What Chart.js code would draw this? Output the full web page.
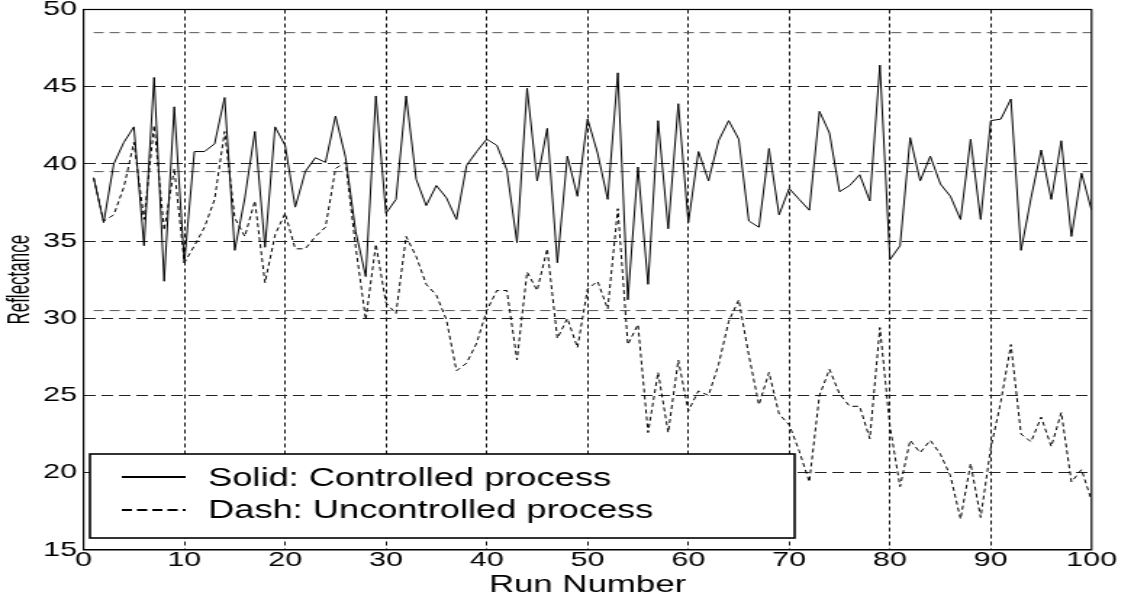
<!DOCTYPE html>
<html>
<head>
<meta charset="utf-8">
<script src="https://cdn.jsdelivr.net/npm/chart.js@4.4.1/dist/chart.umd.min.js"></script>
<style>
  html, body { margin: 0; padding: 0; background: #fff; overflow: hidden; }
  /* the original figure is stretched sideways, so draw narrow and stretch */
  #wrap { width: 782px; height: 605px; transform: scaleX(1.45); transform-origin: 0 0; }
</style>
</head>
<body>
<div id="wrap"><canvas id="chart1" width="782" height="605"></canvas></div>
<script>
var runs = Array.from({length: 100}, function (_, i) { return i + 1; });

var controlled = [
  39.1, 36.2, 40.0, 41.4, 42.4, 34.7, 45.6, 32.4, 43.7, 33.6,
  40.8, 40.8, 41.3, 44.3, 34.4, 37.8, 42.1, 34.6, 42.4, 41.2,
  37.2, 39.5, 40.4, 40.1, 43.1, 40.4, 35.6, 32.7, 44.4, 36.8,
  37.7, 44.4, 39.0, 37.3, 38.6, 37.8, 36.4, 39.9, 40.8, 41.6,
  41.2, 39.6, 34.9, 44.9, 38.9, 42.3, 33.6, 40.5, 37.9, 42.9,
  40.7, 37.7, 45.9, 31.2, 39.8, 32.2, 42.8, 35.8, 43.9, 36.2,
  40.8, 38.9, 41.5, 42.8, 41.6, 36.3, 35.9, 41.0, 36.7, 38.4,
  37.7, 37.0, 43.4, 42.0, 38.2, 38.6, 39.3, 37.6, 46.4, 33.8,
  34.7, 41.7, 38.9, 40.5, 38.7, 37.9, 36.4, 41.6, 36.4, 42.8,
  42.9, 44.2, 34.4, 37.8, 40.9, 37.7, 41.5, 35.3, 39.4, 37.0
];

var uncontrolled = [
  39.1, 36.3, 36.7, 38.5, 41.4, 36.4, 42.5, 35.7, 39.7, 33.6,
  34.7, 35.9, 37.7, 42.1, 36.5, 35.3, 37.6, 32.3, 35.4, 36.8,
  34.5, 34.5, 35.3, 35.9, 39.7, 40.1, 34.6, 29.9, 34.8, 31.0,
  30.3, 35.3, 34.0, 32.2, 31.5, 29.9, 26.6, 27.1, 28.4, 30.5,
  31.8, 31.8, 27.3, 33.0, 31.8, 34.5, 28.7, 30.0, 28.1, 31.9,
  32.4, 30.6, 37.1, 28.3, 29.6, 22.6, 26.5, 22.6, 27.3, 24.0,
  25.3, 25.0, 27.0, 29.8, 31.2, 27.6, 24.4, 26.5, 23.8, 23.1,
  21.4, 19.4, 25.0, 26.7, 25.1, 24.3, 24.3, 22.2, 29.4, 23.0,
  19.1, 22.1, 21.3, 22.1, 21.2, 19.8, 17.0, 20.6, 17.1, 21.6,
  24.6, 28.3, 22.5, 22.0, 23.6, 21.7, 23.9, 19.4, 20.2, 18.2
];

// upper limit, centre line, lower limit
var limits = [48.5, 39.5, 30.5];

var xTicks = [0, 10, 20, 30, 40, 50, 60, 70, 80, 90, 100];
var yTicks = [15, 20, 25, 30, 35, 40, 45, 50];

var seriesLabels = ['Solid: Controlled process', 'Dash: Uncontrolled process'];
var yTitle = 'Reflectance';

function points(ys) {
  return runs.map(function (r, i) { return {x: r, y: ys[i]}; });
}

var datasets = [{
  label: seriesLabels[0],
  data: points(controlled),
  borderColor: '#000',
  borderWidth: 1,
  pointRadius: 0,
  fill: false
}, {
  label: seriesLabels[1],
  data: points(uncontrolled),
  borderColor: '#000',
  borderWidth: 1,
  borderDash: [4, 3],
  pointRadius: 0,
  fill: false
}];

limits.forEach(function (v) {
  datasets.push({
    label: 'limit',
    data: [{x: runs[0], y: v}, {x: runs[runs.length - 1], y: v}],
    borderColor: '#555',
    borderWidth: 1,
    borderDash: [7, 4],
    pointRadius: 0,
    fill: false
  });
});

// box round the plot, the key in the lower left corner, and the y title
var frameAndKey = {
  id: 'frameAndKey',
  afterDatasetsDraw: function (chart) {
    var ctx = chart.ctx, a = chart.chartArea;
    ctx.save();
    ctx.strokeStyle = '#000';
    ctx.lineWidth = 1.2;
    ctx.strokeRect(a.left, a.top, a.right - a.left, a.bottom - a.top);

    ctx.fillStyle = '#fff';
    ctx.fillRect(62, 454, 486, 84);
    ctx.lineWidth = 1.6;
    ctx.strokeRect(62, 454, 486, 84);

    ctx.lineWidth = 2;
    ctx.beginPath();
    ctx.moveTo(84, 477); ctx.lineTo(128, 477);
    ctx.stroke();
    ctx.setLineDash([7, 3.5]);
    ctx.beginPath();
    ctx.moveTo(84, 510); ctx.lineTo(128, 510);
    ctx.stroke();
    ctx.setLineDash([]);

    ctx.fillStyle = '#000';
    ctx.font = "25px 'Liberation Sans', Arial, sans-serif";
    ctx.textBaseline = 'alphabetic';
    ctx.textAlign = 'left';
    ctx.fillText(seriesLabels[0], 143.5, 486);
    ctx.fillText(seriesLabels[1], 143.5, 518);

    // y title: rotated, a bit taller across than the plain font
    ctx.translate(14.5, (a.top + a.bottom) / 2);
    ctx.rotate(-Math.PI / 2);
    ctx.scale(1, 1.25);
    ctx.font = "17px 'Liberation Sans', Arial, sans-serif";
    ctx.textAlign = 'center';
    ctx.textBaseline = 'middle';
    ctx.fillText(yTitle, 0, 0);
    ctx.restore();
  }
};

var edgeless = function (lo, hi, col) {
  return function (c) {
    var v = c.tick && c.tick.value;
    return (v === lo || v === hi) ? 'rgba(0,0,0,0)' : col;
  };
};

var chart1 = new Chart(document.getElementById('chart1').getContext('2d'), {
  type: 'line',
  data: {datasets: datasets},
  plugins: [frameAndKey],
  options: {
    responsive: false,
    animation: false,
    devicePixelRatio: 1,
    layout: {padding: {top: 9.5, right: 29.2, bottom: 0, left: 0}},
    plugins: {legend: {display: false}, tooltip: {enabled: false}},
    scales: {
      x: {
        type: 'linear',
        min: 0,
        max: 100,
        afterBuildTicks: function (s) { s.ticks = xTicks.map(function (v) { return {value: v}; }); },
        afterFit: function (s) { s.height = 55.1; },
        grid: {color: edgeless(0, 100, '#111'), lineWidth: 1, drawTicks: false},
        border: {color: '#000', width: 1, dash: [4, 3]},
        ticks: {
          color: '#000',
          padding: 0,
          maxRotation: 0,
          font: {family: "'Liberation Sans', Arial, sans-serif", size: 21, lineHeight: 1}
        },
        title: {
          display: true,
          text: 'Run Number',
          color: '#000',
          padding: {top: 0, bottom: 5},
          font: {family: "'Liberation Sans', Arial, sans-serif", size: 24}
        }
      },
      y: {
        type: 'linear',
        min: 15,
        max: 50,
        afterBuildTicks: function (s) { s.ticks = yTicks.map(function (v) { return {value: v}; }); },
        afterFit: function (s) {
          s.width = 57.6;
          s.paddingTop = 0;
          s.paddingBottom = 0;
        },
        grid: {color: edgeless(15, 50, '#222'), lineWidth: 1, drawTicks: false},
        border: {color: '#000', width: 1, dash: [8, 4]},
        ticks: {
          color: '#000',
          padding: 4.5,
          font: {family: "'Liberation Sans', Arial, sans-serif", size: 21, lineHeight: 1}
        }
      }
    }
  }
});
</script>
</body>
</html>
